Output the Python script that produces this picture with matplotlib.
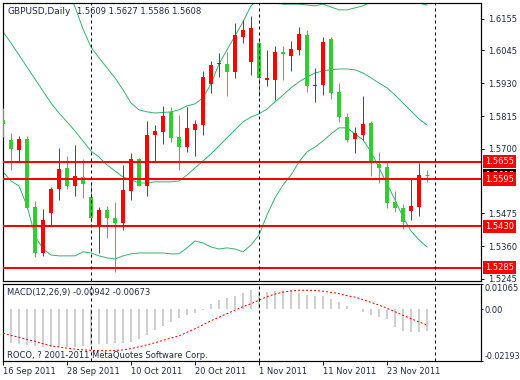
import matplotlib
matplotlib.use("Agg")
import matplotlib.pyplot as plt
import pandas as pd

# -----------------------------
# DATA (GBPUSD daily)
# -----------------------------

dates = pd.bdate_range("2011-09-16", "2011-11-30")

opens = [1.5802, 1.5732, 1.5697, 1.5735, 1.5498, 1.5336, 1.5477, 1.5560, 1.5634, 1.5572,
         1.5602, 1.5532, 1.5434, 1.5487, 1.5457, 1.5442, 1.5554, 1.5665, 1.5572, 1.5749,
         1.5761, 1.5828, 1.5743, 1.5708, 1.5767, 1.5784, 1.5928, 1.5997, 1.5998, 1.5971,
         1.6093, 1.6006, 1.6070, 1.5942, 1.5942, 1.6041, 1.6027, 1.6047, 1.6099, 1.5921,
         1.5924, 1.6085, 1.5901, 1.5812, 1.5735, 1.5749, 1.5792, 1.5648, 1.5638, 1.5513,
         1.5492, 1.5484, 1.5498, 1.5609]
highs = [1.5844, 1.5757, 1.5746, 1.5746, 1.5519, 1.5490, 1.5566, 1.5702, 1.5676, 1.5714,
         1.5665, 1.5586, 1.5496, 1.5499, 1.5515, 1.5644, 1.5686, 1.5668, 1.5798, 1.5784,
         1.5851, 1.5848, 1.5819, 1.5848, 1.5802, 1.5973, 1.6008, 1.6037, 1.6041, 1.6142,
         1.6152, 1.6166, 1.6085, 1.6047, 1.6062, 1.6062, 1.6078, 1.6128, 1.6117, 1.5985,
         1.6093, 1.6093, 1.5932, 1.5826, 1.5778, 1.5887, 1.5798, 1.5688, 1.5653, 1.5553,
         1.5506, 1.5594, 1.5652, 1.5627]
lows = [1.5742, 1.5627, 1.5656, 1.5490, 1.5323, 1.5326, 1.5434, 1.5522, 1.5559, 1.5534,
        1.5530, 1.5446, 1.5335, 1.5390, 1.5270, 1.5418, 1.5522, 1.5571, 1.5537, 1.5656,
        1.5718, 1.5726, 1.5627, 1.5688, 1.5677, 1.5749, 1.5897, 1.5953, 1.5887, 1.5950,
        1.6070, 1.5959, 1.5887, 1.5921, 1.5872, 1.5942, 1.5973, 1.6029, 1.5901, 1.5866,
        1.5889, 1.5875, 1.5796, 1.5726, 1.5687, 1.5732, 1.5607, 1.5580, 1.5492, 1.5481,
        1.5419, 1.5452, 1.5467, 1.5586]
closes = [1.5788, 1.5701, 1.5735, 1.5494, 1.5337, 1.5452, 1.5560, 1.5630, 1.5572, 1.5606,
          1.5579, 1.5460, 1.5487, 1.5457, 1.5440, 1.5557, 1.5664, 1.5572, 1.5749, 1.5763,
          1.5816, 1.5740, 1.5708, 1.5775, 1.5788, 1.5953, 1.5994, 1.6000, 1.5971, 1.6099,
          1.6117, 1.6124, 1.5950, 1.5950, 1.6041, 1.6031, 1.6050, 1.6103, 1.5921, 1.5924,
          1.6075, 1.5897, 1.5813, 1.5732, 1.5755, 1.5788, 1.5650, 1.5635, 1.5512, 1.5495,
          1.5446, 1.5500, 1.5609, 1.5608]

bb_upper = [1.6600, 1.6557, 1.6488, 1.6474, 1.6495, 1.6456, 1.6393, 1.6327, 1.6264, 1.6197,
            1.6120, 1.6057, 1.6019, 1.5984, 1.5949, 1.5907, 1.5861, 1.5837, 1.5830, 1.5826,
            1.5828, 1.5830, 1.5837, 1.5851, 1.5858, 1.5879, 1.5928, 1.5998, 1.6047, 1.6096,
            1.6145, 1.6201, 1.6228, 1.6214, 1.6211, 1.6207, 1.6207, 1.6207, 1.6204, 1.6201,
            1.6207, 1.6197, 1.6187, 1.6187, 1.6194, 1.6201, 1.6214, 1.6228, 1.6235, 1.6232,
            1.6225, 1.6218, 1.6211, 1.6204]
bb_middle = [1.6110, 1.6071, 1.6029, 1.5987, 1.5945, 1.5903, 1.5861, 1.5826, 1.5795, 1.5763,
             1.5728, 1.5693, 1.5672, 1.5644, 1.5623, 1.5602, 1.5592, 1.5581, 1.5581, 1.5585,
             1.5585, 1.5585, 1.5588, 1.5609, 1.5634, 1.5658, 1.5683, 1.5711, 1.5739, 1.5767,
             1.5795, 1.5812, 1.5823, 1.5840, 1.5865, 1.5889, 1.5914, 1.5935, 1.5952, 1.5966,
             1.5973, 1.5978, 1.5980, 1.5980, 1.5977, 1.5966, 1.5949, 1.5931, 1.5914, 1.5889,
             1.5861, 1.5833, 1.5805, 1.5784]
bb_lower = [1.5620, 1.5588, 1.5571, 1.5501, 1.5396, 1.5350, 1.5329, 1.5326, 1.5326, 1.5326,
            1.5340, 1.5336, 1.5326, 1.5319, 1.5315, 1.5326, 1.5333, 1.5336, 1.5336, 1.5336,
            1.5336, 1.5333, 1.5333, 1.5354, 1.5378, 1.5371, 1.5357, 1.5350, 1.5354, 1.5350,
            1.5340, 1.5364, 1.5399, 1.5469, 1.5529, 1.5574, 1.5609, 1.5655, 1.5690, 1.5707,
            1.5728, 1.5753, 1.5774, 1.5774, 1.5753, 1.5732, 1.5690, 1.5634, 1.5578, 1.5522,
            1.5462, 1.5413, 1.5382, 1.5357]

macd_main = [-0.0137, -0.0144, -0.0147, -0.0151, -0.0155, -0.0158, -0.0158, -0.0158, -0.0158, -0.0158,
             -0.0155, -0.0151, -0.0148, -0.0147, -0.0144, -0.0144, -0.0138, -0.0127, -0.0108, -0.0090,
             -0.0073, -0.0056, -0.0037, -0.0023, -0.0015, -0.0003, 0.0023, 0.0037, 0.0048, 0.0057,
             0.0069, 0.0083, 0.0078, 0.0073, 0.0076, 0.0080, 0.0080, 0.0070, 0.0062, 0.0057,
             0.0054, 0.0045, 0.0029, 0.0012, 0.0002, -0.0011, -0.0023, -0.0032, -0.0040, -0.0074,
             -0.0094, -0.0096, -0.0095, -0.00942]
macd_signal = [-0.0101, -0.0111, -0.0119, -0.0128, -0.0136, -0.0146, -0.0155, -0.0160, -0.0165, -0.0169,
               -0.0172, -0.0174, -0.0175, -0.0176, -0.0175, -0.0172, -0.0167, -0.0159, -0.0151, -0.0142,
               -0.0132, -0.0122, -0.0113, -0.0098, -0.0083, -0.0066, -0.0049, -0.0034, -0.0019, -0.0004,
               0.0011, 0.0023, 0.0038, 0.0053, 0.0064, 0.0072, 0.0077, 0.0080, 0.0080, 0.0079,
               0.0076, 0.0071, 0.0066, 0.0057, 0.0051, 0.0040, 0.0029, 0.0017, 0.0004, -0.0011,
               -0.0026, -0.0040, -0.0054, -0.00673]

levels = [1.5655, 1.5595, 1.5430, 1.5285]
price_ticks = [1.6155, 1.6045, 1.5930, 1.5815, 1.5700, 1.5475, 1.5360, 1.5245]
macd_ticks = [0.01065, 0.0, -0.02193]
last_price = 1.5608

# -----------------------------
# STYLE
# -----------------------------

BULL = "#ff0000"
BEAR = "#32cd32"
BAND = "#3cb371"
TXT = "#1f2a44"
FS = 6.5     # panel texts
FS_AX = 6.0  # scale labels
PX = 0.72    # one pixel in points

W, H = 520, 380
fig = plt.figure(figsize=(W / 100, H / 100), dpi=100)
fig.patch.set_facecolor("white")

left = 2.5 / W
width = (481 - 2.5) / W
ax = fig.add_axes([left, (H - 281) / H, width, 278 / H])
ax2 = fig.add_axes([left, (H - 361) / H, width, 77 / H])

x = list(range(len(closes)))
xlim = (-0.0625, 59.75)

# -----------------------------
# CANDLES
# -----------------------------

for i in x:
    o, h, l, c = opens[i], highs[i], lows[i], closes[i]
    col = BULL if c >= o else BEAR
    ax.vlines(i, l, h, color=col, lw=PX, zorder=3)
    if abs(c - o) < 0.00025:
        ax.hlines((o + c) / 2, i - 0.3, i + 0.3, color=col, lw=PX * 1.2, zorder=3)
    else:
        ax.bar(i, abs(c - o), bottom=min(o, c), width=0.6, color=col,
               linewidth=0, zorder=4)

ax.plot(x, bb_upper, color=BAND, lw=PX, zorder=2)
ax.plot(x, bb_middle, color=BAND, lw=PX, zorder=2)
ax.plot(x, bb_lower, color=BAND, lw=PX, zorder=2)

for lv in levels:
    ax.axhline(lv, color=BULL, lw=2 * PX, zorder=5)

# month separators (first bar of each month, incl. next month)
all_days = pd.bdate_range(dates[0], dates[-1] + pd.offsets.BDay(1))
months = all_days.to_period("M")
seps = [k for k in range(1, len(all_days)) if months[k] != months[k - 1]]
for a in (ax, ax2):
    for k in seps:
        a.axvline(k, color="black", lw=PX, linestyle=(0, (3, 3)), zorder=6)

ax.set_xlim(*xlim)
ax.set_ylim(1.5238, 1.6211)
ax.set_xticks([])
ax.yaxis.tick_right()
ax.set_yticks(price_ticks)
ax.set_yticklabels([f"{v:.4f}" for v in price_ticks])
ax.tick_params(axis="y", length=2, width=PX, pad=3, labelsize=FS_AX, labelcolor=TXT)

# current price + level labels on the price scale
ax.text(1.008, last_price, f"{last_price:.4f}", transform=ax.get_yaxis_transform(),
        ha="left", va="center", fontsize=FS_AX, color="white", clip_on=False, zorder=7,
        bbox=dict(boxstyle="square,pad=0.25", fc="black", ec="none"))
for lv in levels:
    ax.text(1.008, lv, f"{lv:.4f}", transform=ax.get_yaxis_transform(),
            ha="left", va="center", fontsize=FS_AX, color="white", clip_on=False, zorder=8,
            bbox=dict(boxstyle="square,pad=0.25", fc=BULL, ec="none"))

# -----------------------------
# MACD PANEL
# -----------------------------

ax2.vlines(x, 0, macd_main, color="#c0c0c0", lw=1.5 * PX, zorder=2)
ax2.plot(x, macd_signal, color=BULL, lw=PX, linestyle=(0, (2, 2)), zorder=3)
ax2.set_xlim(*xlim)
ax2.set_ylim(-0.02193, 0.01065)
ax2.yaxis.tick_right()
ax2.set_yticks(macd_ticks)
ax2.set_yticklabels(["0.01065", "0.00", "-0.02193"])
ax2.tick_params(axis="y", length=1.5, width=PX, pad=1, labelsize=FS_AX, labelcolor=TXT)
yt = ax2.yaxis.get_major_ticks()
yt[0].label2.set_va("top")
yt[2].label2.set_va("bottom")
yt[2].label2.set_fontsize(5.8)

tick_pos = x[::8]
ax2.set_xticks(tick_pos)
ax2.set_xticklabels([f"{d.day} {d.strftime('%b %Y')}" for d in dates[::8]], ha="left")
ax2.tick_params(axis="x", length=3, width=PX, pad=1, labelsize=FS_AX, labelcolor=TXT)

for a in (ax, ax2):
    for s in a.spines.values():
        s.set_linewidth(PX * 1.2)
        s.set_color("black")

# -----------------------------
# TEXTS
# -----------------------------

fig.text(7 / W, 1 - 11 / H, "GBPUSD,Daily", fontsize=FS, color=TXT, va="center")
fig.text(77 / W, 1 - 11 / H,
         f"{opens[-1]:.4f} {highs[-1]:.4f} {lows[-1]:.4f} {closes[-1]:.4f}",
         fontsize=FS_AX, color=TXT, va="center")
fig.text(7 / W, 1 - 293 / H,
         f"MACD(12,26,9) {macd_main[-1]:.5f} {macd_signal[-1]:.5f}",
         fontsize=FS_AX, color=TXT, va="center")
fig.text(7 / W, 1 - 355 / H, "ROCO, ? 2001-2011 MetaQuotes Software Corp.",
         fontsize=FS_AX, color=TXT, va="center")

fig.savefig("out.png", dpi=100, facecolor="white")
